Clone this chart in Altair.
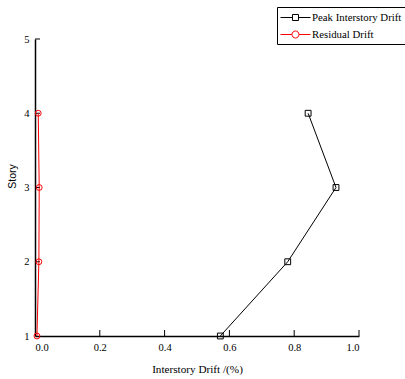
import altair as alt
import pandas as pd

stories = [1, 2, 3, 4]
peak = [0.572, 0.780, 0.929, 0.843]
residual = [0.006, 0.012, 0.013, 0.010]
series_names = ["Peak Interstory Drift", "Residual Drift"]
series_colors = ["#000000", "#ff0000"]
series_shapes = ["square", "circle"]
x_ticks = [0.2, 0.4, 0.6, 0.8, 1.0]
y_ticks = [2, 3, 4, 5]

rows = []
for s, v in zip(stories, peak):
    rows.append({"story": s, "drift": v, "series": series_names[0]})
for s, v in zip(stories, residual):
    rows.append({"story": s, "drift": v, "series": series_names[1]})
df = pd.DataFrame(rows)

FONT = "Liberation Serif"
W, H = 324, 297

xscale = alt.Scale(domain=[0, 1], nice=False, zero=False)
yscale = alt.Scale(domain=[1, 5], nice=False, zero=False)
cscale = alt.Scale(domain=series_names, range=series_colors)

xaxis = alt.Axis(values=[0, 0.2, 0.4, 0.6, 0.8, 1.0], format=".1f", ticks=False, grid=False,
                 domainColor="black", domainWidth=1.5, labelFont=FONT, labelFontSize=10.5,
                 labelColor="black", labelPadding=6, title="Interstory Drift /(%)",
                 titleFont=FONT, titleFontSize=11.2, titleFontWeight="normal", titleColor="black",
                 titlePadding=11)
yaxis = alt.Axis(values=[1, 2, 3, 4, 5], format="d", ticks=False, grid=False,
                 domainColor="black", domainWidth=1.5, labelFont=FONT, labelFontSize=10.5,
                 labelColor="black", labelPadding=6, title="Story",
                 titleFont="Liberation Sans", titleFontSize=10.5, titleFontWeight="normal",
                 titleColor="black", titleX=-23, titleY=137, titleAngle=270,
                 titleBaseline="middle", titleAlign="center")

# legend glyphs: a short line with the marker in its middle (units = half of symbol size)
sq_path = "M-1,0H0.71M1.57,0H3.29M0.71,-0.43H1.57V0.43H0.71Z"
ci_path = "M-1,0H0.64M1.64,0H3.29M0.64,0A0.5,0.5,0,1,0,1.64,0A0.5,0.5,0,1,0,0.64,0Z"

legend = alt.Legend(title=None, orient="none", legendX=242, legendY=-32,
                    strokeColor="black", padding=3, symbolSize=196, symbolStrokeWidth=1,
                    symbolOpacity=1, labelFont=FONT, labelFontSize=10.8, labelColor="black",
                    labelOffset=17, rowPadding=4, fillColor="white", cornerRadius=0)

base = alt.Chart(df)

series_layers = []
for i, (name, col, shp) in enumerate(zip(series_names, series_colors, series_shapes)):
    sub = base.transform_filter(alt.datum.series == name)
    if i == 0:
        enc_x = alt.X("drift:Q", scale=xscale, axis=xaxis)
        enc_y = alt.Y("story:Q", scale=yscale, axis=yaxis)
    else:
        enc_x = alt.X("drift:Q")
        enc_y = alt.Y("story:Q")
    series_layers.append(
        sub.mark_line(strokeWidth=1, color=col).encode(x=enc_x, y=enc_y, order="story:Q")
    )
    series_layers.append(
        sub.mark_point(filled=False, strokeWidth=1, size=34, opacity=1, color=col, shape=shp)
        .encode(x="drift:Q", y="story:Q")
    )

legend_layer = base.mark_point(filled=False, size=0, opacity=1, strokeWidth=1).encode(
    x="drift:Q",
    y="story:Q",
    color=alt.Color("series:N", scale=cscale, legend=legend),
    shape=alt.Shape("series:N", scale=alt.Scale(domain=series_names, range=[sq_path, ci_path]),
                    legend=legend),
)

xt = alt.Chart(pd.DataFrame({"v": x_ticks})).mark_rule(color="black", strokeWidth=1).encode(
    x=alt.X("v:Q", scale=xscale), y=alt.value(H), y2=alt.value(H - 6))
yt = alt.Chart(pd.DataFrame({"v": y_ticks})).mark_rule(color="black", strokeWidth=1).encode(
    y=alt.Y("v:Q", scale=yscale), x=alt.value(0), x2=alt.value(5))

chart = alt.layer(xt, yt, *series_layers, legend_layer).properties(
    width=W, height=H,
    background="white",
    autosize=alt.AutoSizeParams(type="none"),
    padding={"left": 35, "top": 39, "right": 46, "bottom": 43},
).configure_view(strokeWidth=0, stroke="transparent")

chart.save("out.html", embed_options={"renderer": "svg", "actions": False})
